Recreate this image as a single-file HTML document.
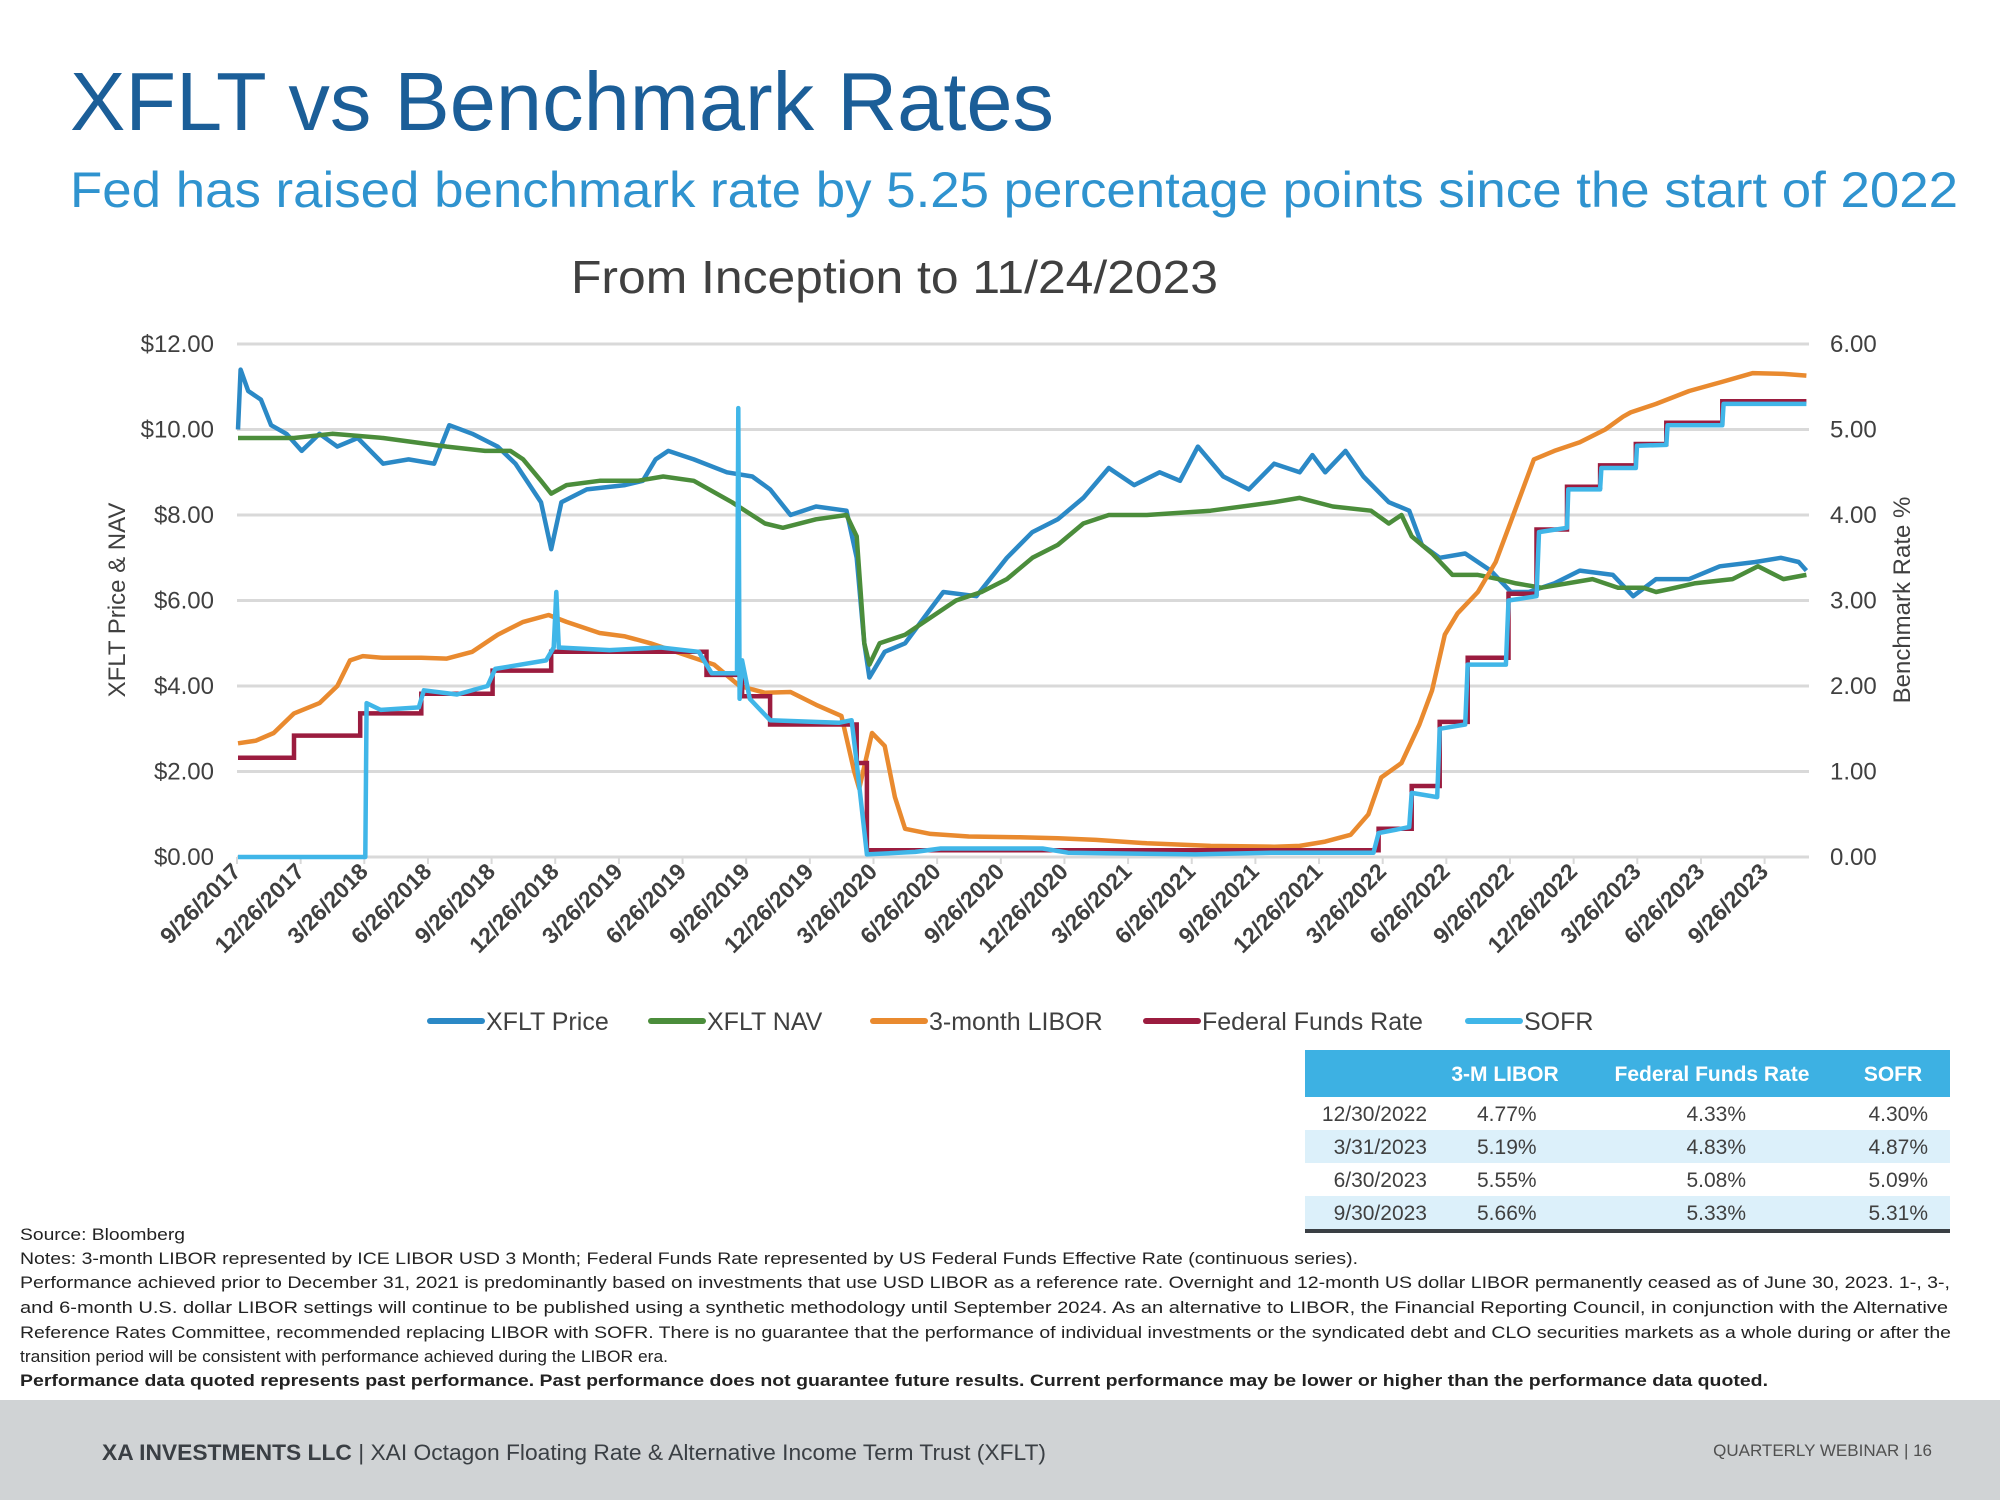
<!DOCTYPE html>
<html><head><meta charset="utf-8">
<style>
html,body{margin:0;padding:0;background:#fff;}
body{width:2000px;height:1500px;position:relative;overflow:hidden;font-family:"Liberation Sans",Arial,sans-serif;}
svg{position:absolute;left:0;top:0;}
</style></head>
<body>
<svg id="page" width="2000" height="1500" viewBox="0 0 2000 1500" xmlns="http://www.w3.org/2000/svg" font-family="Liberation Sans, Arial, sans-serif">
  <text x="70" y="130" font-size="83" fill="#1b5e98">XFLT vs Benchmark Rates</text>
  <text x="70" y="207" font-size="50" fill="#2f93cf" textLength="1888" lengthAdjust="spacingAndGlyphs">Fed has raised benchmark rate by 5.25 percentage points since the start of 2022</text>
  <text x="571" y="293" font-size="46" fill="#404040" textLength="647" lengthAdjust="spacingAndGlyphs">From Inception to 11/24/2023</text>
  <g id="grid"></g>
  <g id="xaxis"></g>
  <g id="yleft"></g>
  <g id="yright"></g>
  <text transform="translate(125,600) rotate(-90)" text-anchor="middle" font-size="24" fill="#404040">XFLT Price &amp; NAV</text>
  <text transform="translate(1910,600) rotate(-90)" text-anchor="middle" font-size="24" fill="#404040">Benchmark Rate %</text>
  <g id="series"></g>
  <g id="legend"></g>

  <g>
    <rect x="1305" y="1050" width="645" height="47" fill="#3db1e3"/>
    <rect x="1305" y="1130" width="645" height="33" fill="#dcf0fa"/>
    <rect x="1305" y="1196" width="645" height="33" fill="#dcf0fa"/>
    <rect x="1305" y="1229" width="645" height="4" fill="#3a3f44"/>
    <g font-size="21" font-weight="bold" fill="#fff" text-anchor="middle">
      <text x="1505" y="1081">3-M LIBOR</text>
      <text x="1712" y="1081">Federal Funds Rate</text>
      <text x="1893" y="1081">SOFR</text>
    </g>
    <g font-size="21" fill="#404040">
      <g text-anchor="end">
        <text x="1427" y="1121">12/30/2022</text>
        <text x="1427" y="1154">3/31/2023</text>
        <text x="1427" y="1187">6/30/2023</text>
        <text x="1427" y="1220">9/30/2023</text>
      </g>
      <g text-anchor="start">
        <text x="1477" y="1121">4.77%</text>
        <text x="1477" y="1154">5.19%</text>
        <text x="1477" y="1187">5.55%</text>
        <text x="1477" y="1220">5.66%</text>
      </g>
      <g text-anchor="end">
        <text x="1746" y="1121">4.33%</text>
        <text x="1746" y="1154">4.83%</text>
        <text x="1746" y="1187">5.08%</text>
        <text x="1746" y="1220">5.33%</text>
        <text x="1928" y="1121">4.30%</text>
        <text x="1928" y="1154">4.87%</text>
        <text x="1928" y="1187">5.09%</text>
        <text x="1928" y="1220">5.31%</text>
      </g>
    </g>
  </g>

  <g font-size="17" fill="#222">
    <text x="20" y="1240" textLength="165" lengthAdjust="spacingAndGlyphs">Source: Bloomberg</text>
    <text x="20" y="1264" textLength="1338" lengthAdjust="spacingAndGlyphs">Notes: 3-month LIBOR represented by ICE LIBOR USD 3 Month; Federal Funds Rate represented by US Federal Funds Effective Rate (continuous series).</text>
    <text x="20" y="1288" textLength="1930" lengthAdjust="spacingAndGlyphs">Performance achieved prior to December 31, 2021 is predominantly based on investments that use USD LIBOR as a reference rate.  Overnight and 12-month US dollar LIBOR permanently ceased as of June 30, 2023. 1-, 3-,</text>
    <text x="20" y="1313" textLength="1928" lengthAdjust="spacingAndGlyphs">and 6-month U.S. dollar LIBOR settings will continue to be published using a synthetic methodology until September 2024. As an alternative to LIBOR, the Financial Reporting Council, in conjunction with the Alternative</text>
    <text x="20" y="1338" textLength="1931" lengthAdjust="spacingAndGlyphs">Reference Rates Committee, recommended replacing LIBOR with SOFR. There is no guarantee that the performance of individual investments or the syndicated debt and CLO securities markets as a whole during or after the</text>
    <text x="20" y="1362" textLength="648" lengthAdjust="spacingAndGlyphs">transition period will be consistent with performance achieved during the LIBOR era.</text>
    <text x="20" y="1386" font-weight="bold" textLength="1748" lengthAdjust="spacingAndGlyphs">Performance data quoted represents past performance. Past performance does not guarantee future results. Current performance may be lower or higher than the performance data quoted.</text>
  </g>

  <rect x="0" y="1400" width="2000" height="100" fill="#d0d3d5"/>
  <text x="102" y="1460" font-size="22" fill="#3a3f44" textLength="944" lengthAdjust="spacingAndGlyphs"><tspan font-weight="bold">XA INVESTMENTS LLC</tspan>  |  XAI Octagon Floating Rate &amp; Alternative Income Term Trust (XFLT)</text>
  <text x="1932" y="1456" font-size="17" fill="#505050" text-anchor="end">QUARTERLY WEBINAR   |   16</text>
</svg>
<script>
const xTickLabels = ["9/26/2017","12/26/2017","3/26/2018","6/26/2018","9/26/2018","12/26/2018","3/26/2019","6/26/2019","9/26/2019","12/26/2019","3/26/2020","6/26/2020","9/26/2020","12/26/2020","3/26/2021","6/26/2021","9/26/2021","12/26/2021","3/26/2022","6/26/2022","9/26/2022","12/26/2022","3/26/2023","6/26/2023","9/26/2023"];
const leftTicks = [0,2,4,6,8,10,12];
const leftTickLabels = ["$0.00","$2.00","$4.00","$6.00","$8.00","$10.00","$12.00"];
const rightTickLabels = ["0.00","1.00","2.00","3.00","4.00","5.00","6.00"];

const priceDates = [2017.74,2017.75,2017.78,2017.83,2017.87,2017.93,2017.99,2018.06,2018.13,2018.21,2018.31,2018.41,2018.51,2018.57,2018.66,2018.76,2018.83,2018.93,2018.97,2019.01,2019.11,2019.26,2019.33,2019.38,2019.43,2019.53,2019.66,2019.76,2019.83,2019.91,2020.01,2020.13,2020.17,2020.20,2020.22,2020.28,2020.36,2020.46,2020.51,2020.64,2020.76,2020.86,2020.96,2021.06,2021.16,2021.26,2021.36,2021.44,2021.51,2021.61,2021.71,2021.81,2021.91,2021.96,2022.01,2022.09,2022.16,2022.26,2022.34,2022.39,2022.46,2022.56,2022.66,2022.74,2022.81,2022.91,2023.01,2023.14,2023.22,2023.31,2023.44,2023.56,2023.70,2023.80,2023.87,2023.90];
const priceValues = [10.0,11.4,10.9,10.7,10.1,9.9,9.5,9.9,9.6,9.8,9.2,9.3,9.2,10.1,9.9,9.6,9.2,8.3,7.2,8.3,8.6,8.7,8.8,9.3,9.5,9.3,9.0,8.9,8.6,8.0,8.2,8.1,7.0,5.0,4.2,4.8,5.0,5.8,6.2,6.1,7.0,7.6,7.9,8.4,9.1,8.7,9.0,8.8,9.6,8.9,8.6,9.2,9.0,9.4,9.0,9.5,8.9,8.3,8.1,7.3,7.0,7.1,6.7,6.2,6.2,6.4,6.7,6.6,6.1,6.5,6.5,6.8,6.9,7.0,6.9,6.7];

const navDates = [2017.74,2017.96,2018.11,2018.31,2018.56,2018.71,2018.81,2018.86,2018.93,2018.97,2019.03,2019.16,2019.31,2019.41,2019.53,2019.68,2019.81,2019.88,2020.01,2020.13,2020.17,2020.20,2020.22,2020.26,2020.36,2020.46,2020.56,2020.66,2020.76,2020.86,2020.96,2021.06,2021.16,2021.31,2021.56,2021.81,2021.91,2022.04,2022.19,2022.26,2022.31,2022.35,2022.43,2022.51,2022.61,2022.69,2022.76,2022.86,2023.06,2023.16,2023.26,2023.31,2023.46,2023.61,2023.71,2023.81,2023.90];
const navValues = [9.8,9.8,9.9,9.8,9.6,9.5,9.5,9.3,8.8,8.5,8.7,8.8,8.8,8.9,8.8,8.3,7.8,7.7,7.9,8.0,7.5,5.0,4.5,5.0,5.2,5.6,6.0,6.2,6.5,7.0,7.3,7.8,8.0,8.0,8.1,8.3,8.4,8.2,8.1,7.8,8.0,7.5,7.1,6.6,6.6,6.5,6.4,6.3,6.5,6.3,6.3,6.2,6.4,6.5,6.8,6.5,6.6];

const liborDates = [2017.74,2017.81,2017.88,2017.96,2018.06,2018.13,2018.18,2018.23,2018.31,2018.46,2018.56,2018.66,2018.76,2018.86,2018.96,2019.03,2019.16,2019.26,2019.36,2019.51,2019.61,2019.71,2019.81,2019.91,2020.01,2020.11,2020.16,2020.18,2020.23,2020.28,2020.32,2020.36,2020.46,2020.61,2020.81,2020.96,2021.11,2021.31,2021.56,2021.81,2021.91,2022.01,2022.11,2022.18,2022.23,2022.31,2022.38,2022.43,2022.48,2022.53,2022.61,2022.68,2022.73,2022.78,2022.83,2022.91,2023.01,2023.11,2023.18,2023.21,2023.31,2023.44,2023.56,2023.69,2023.81,2023.90];
const liborValues = [1.33,1.36,1.45,1.68,1.8,2.0,2.3,2.35,2.33,2.33,2.32,2.4,2.6,2.75,2.83,2.75,2.62,2.58,2.5,2.35,2.25,2.0,1.92,1.93,1.78,1.65,1.0,0.8,1.45,1.3,0.7,0.33,0.27,0.24,0.23,0.22,0.2,0.16,0.13,0.12,0.13,0.18,0.26,0.5,0.93,1.1,1.55,1.95,2.6,2.85,3.1,3.45,3.85,4.25,4.65,4.75,4.85,5.0,5.15,5.2,5.3,5.45,5.55,5.66,5.65,5.63];

const fedDates = [2017.74,2017.96,2018.22,2018.46,2018.74,2018.97,2019.58,2019.72,2019.83,2020.17,2020.21,2022.22,2022.35,2022.46,2022.57,2022.73,2022.84,2022.96,2023.09,2023.23,2023.35,2023.57,2023.90];
const fedValues = [1.16,1.42,1.68,1.91,2.18,2.40,2.13,1.88,1.55,1.10,0.08,0.33,0.83,1.58,2.33,3.08,3.83,4.33,4.58,4.83,5.08,5.33,5.33];

const sofrDates = [2017.74,2018.24,2018.245,2018.3,2018.45,2018.47,2018.6,2018.72,2018.75,2018.95,2018.98,2018.99,2019.0,2019.2,2019.4,2019.55,2019.6,2019.7,2019.705,2019.71,2019.72,2019.75,2019.83,2020.1,2020.15,2020.17,2020.21,2020.4,2020.5,2020.9,2021.0,2021.5,2021.8,2022.2,2022.22,2022.34,2022.35,2022.45,2022.46,2022.56,2022.57,2022.72,2022.73,2022.84,2022.85,2022.96,2022.965,2023.09,2023.095,2023.23,2023.235,2023.35,2023.355,2023.57,2023.575,2023.90];
const sofrValues = [0,0,1.8,1.72,1.75,1.95,1.9,2.0,2.2,2.3,2.45,3.1,2.45,2.42,2.45,2.4,2.15,2.15,5.25,1.85,2.3,1.85,1.6,1.57,1.6,1.1,0.03,0.06,0.1,0.1,0.05,0.03,0.05,0.05,0.28,0.35,0.75,0.7,1.5,1.55,2.25,2.25,3.0,3.05,3.8,3.85,4.3,4.3,4.55,4.55,4.81,4.82,5.05,5.05,5.3,5.3];

const legendLabels = ["XFLT Price","XFLT NAV","3-month LIBOR","Federal Funds Rate","SOFR"];

const NS = "http://www.w3.org/2000/svg";
const T0 = 2017.736, X0 = 237, PX_PER_YEAR = 254.6;
const Y0 = 857, PX_PER_DOLLAR = (857 - 344) / 12;
function xScale(t){ return X0 + (t - T0) * PX_PER_YEAR; }
function yDollar(v){ return Y0 - v * PX_PER_DOLLAR; }
function yRate(r){ return yDollar(r * 2); }
function mk(tag, attrs, parent){
  const e = document.createElementNS(NS, tag);
  for (const k in attrs) e.setAttribute(k, attrs[k]);
  parent.appendChild(e);
  return e;
}
const grid = document.getElementById('grid');
const yl = document.getElementById('yleft');
const yr = document.getElementById('yright');
leftTicks.forEach((v, i) => {
  const y = yDollar(v);
  const g = mk('line', {x1: X0, x2: 1809, y1: y, y2: y, stroke: '#d9d9d9', 'stroke-width': 3}, grid);
  
  
  const t = mk('text', {x: 214, y: y + 8, 'text-anchor': 'end', 'font-size': 24, fill: '#404040'}, yl);
  t.textContent = leftTickLabels[i];
  
  
  const t2 = mk('text', {x: 1830, y: y + 8, 'font-size': 24, fill: '#404040'}, yr);
  t2.textContent = rightTickLabels[i];
  
  
});
const xa = document.getElementById('xaxis');
xTickLabels.forEach((lab, i) => {
  const x = xScale(T0 + i * 0.25);
  const tk = mk('line', {x1: x, x2: x, y1: Y0, y2: Y0 + 7, stroke: '#d9d9d9', 'stroke-width': 2}, xa);
  
  
  const t = mk('text', {transform: `translate(${x + 5},${Y0 + 16}) rotate(-45)`, 'text-anchor': 'end', 'font-size': 23, 'font-weight': 'bold', fill: '#404040'}, xa);
  t.textContent = lab;
  
  
});

const ser = document.getElementById('series');
function linePath(dates, vals, yf){
  return dates.map((d, i) => (i ? 'L' : 'M') + xScale(d).toFixed(1) + ',' + yf(vals[i]).toFixed(1)).join(' ');
}
function stepPath(dates, vals, yf){
  let p = 'M' + xScale(dates[0]).toFixed(1) + ',' + yf(vals[0]).toFixed(1);
  for (let i = 1; i < dates.length; i++){
    p += ' H' + xScale(dates[i]).toFixed(1) + ' V' + yf(vals[i]).toFixed(1);
  }
  return p;
}
const colors = ['#2b89c6', '#4b8d3b', '#e98a2f', '#9b1c3f', '#40b6e8'];
const sPrice = mk('path', {d: linePath(priceDates, priceValues, yDollar), fill: 'none', stroke: colors[0], 'stroke-width': 4.5, 'stroke-linejoin': 'round'}, ser);


const sNav = mk('path', {d: linePath(navDates, navValues, yDollar), fill: 'none', stroke: colors[1], 'stroke-width': 4.5, 'stroke-linejoin': 'round'}, ser);


const sLibor = mk('path', {d: linePath(liborDates, liborValues, yRate), fill: 'none', stroke: colors[2], 'stroke-width': 4.5, 'stroke-linejoin': 'round'}, ser);


const sFed = mk('path', {d: stepPath(fedDates, fedValues, yRate), fill: 'none', stroke: colors[3], 'stroke-width': 4.5}, ser);


const sSofr = mk('path', {d: linePath(sofrDates, sofrValues, yRate), fill: 'none', stroke: colors[4], 'stroke-width': 4.5, 'stroke-linejoin': 'round'}, ser);



const lg = document.getElementById('legend');
const legendX = [430, 651, 873, 1146, 1468];
legendLabels.forEach((lab, i) => {
  const l = mk('line', {x1: legendX[i], x2: legendX[i] + 52, y1: 1021, y2: 1021, stroke: colors[i], 'stroke-width': 6, 'stroke-linecap': 'round'}, lg);
  
  
  const t = mk('text', {x: legendX[i] + 56, y: 1030, 'font-size': 25, fill: '#404040'}, lg);
  t.textContent = lab;
  
  
});
</script>
</body></html>
